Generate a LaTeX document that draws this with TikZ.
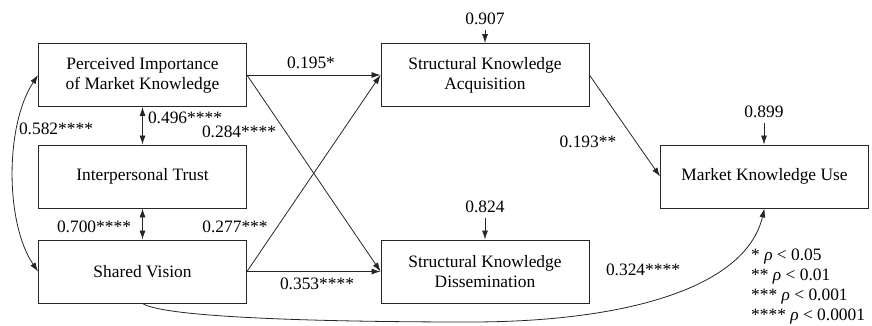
\documentclass[tikz,border=0pt]{standalone}
\usepackage{fontspec}
\setmainfont{Liberation Serif}
\usetikzlibrary{arrows.meta}

\begin{document}
\begin{tikzpicture}[x=1pt, y=-1pt,
    font=\fontsize{17.4}{20}\selectfont,
    box/.style={draw=black!85, line width=0.9pt, minimum width=208pt, minimum height=63pt, align=center, inner sep=0pt},
    arr/.style={draw=black!85, line width=0.8pt, -{Latex[length=9pt,width=6pt]}},
    biarr/.style={draw=black!85, line width=0.8pt, {Latex[length=9pt,width=6pt]}-{Latex[length=9pt,width=6pt]}},
    err/.style={inner sep=5pt}]
    \useasboundingbox (0,0) rectangle (872,325);

    % Boxes
    \node[box] (pi)  at (142.5,75)  {Perceived Importance\\of Market Knowledge};
    \node[box] (it)  at (142.5,176.5) {Interpersonal Trust};
    \node[box] (sv)  at (142.5,271.5) {Shared Vision};
    \node[box] (ska) at (485,75)    {Structural Knowledge\\Acquisition};
    \node[box] (skd) at (485,271.5) {Structural Knowledge\\Dissemination};
    \node[box] (mku) at (764.5,176.5) {Market Knowledge Use};

    % Error terms
    \node[err] (eska) at (485,19)  {0.907};
    \node[err] (eskd) at (485,207) {0.824};
    \node[err] (emku) at (764,112) {0.899};
    \draw[arr] (eska.south) -- (eska.south |- ska.north);
    \draw[arr] (eskd.south) -- (eskd.south |- skd.north);
    \draw[arr] (emku.south) -- (emku.south |- mku.north);

    % Correlations
    \draw[biarr] (pi.south) -- (it.north);
    \draw[biarr] (it.south) -- (sv.north);
    \draw[biarr] (pi.west) .. controls (5,125) and (5,223) .. (sv.west);

    % Paths
    \draw[arr] (pi.east) -- (ska.west);
    \draw[arr] (pi.east) -- (skd.west);
    \draw[arr] (sv.east) -- (ska.west);
    \draw[arr] (sv.east) -- (skd.west);
    \draw[arr] (ska.east) -- (mku.west);
    \coordinate (low) at (470,322);
    \draw[arr] (sv.south) .. controls (165,318) and (330,322) .. (low)
        .. controls (620,322) and (745,290) .. (mku.south);

    % Coefficients
    \node at (311,63)  {0.195*};
    \node at (185,118) {0.496****};
    \node at (239,132) {0.284****};
    \node at (56,129)  {0.582****};
    \node at (94,227)  {0.700****};
    \node at (235,227) {0.277***};
    \node at (317,284) {0.353****};
    \node at (588,142) {0.193**};
    \node at (643,270) {0.324****};

    % Legend
    \node[anchor=west, align=left, inner sep=0pt] (legend) at (751,287)
        {* {\itshape ρ} < 0.05\\** {\itshape ρ} < 0.01\\*** {\itshape ρ} < 0.001\\**** {\itshape ρ} < 0.0001};
\end{tikzpicture}
\end{document}
